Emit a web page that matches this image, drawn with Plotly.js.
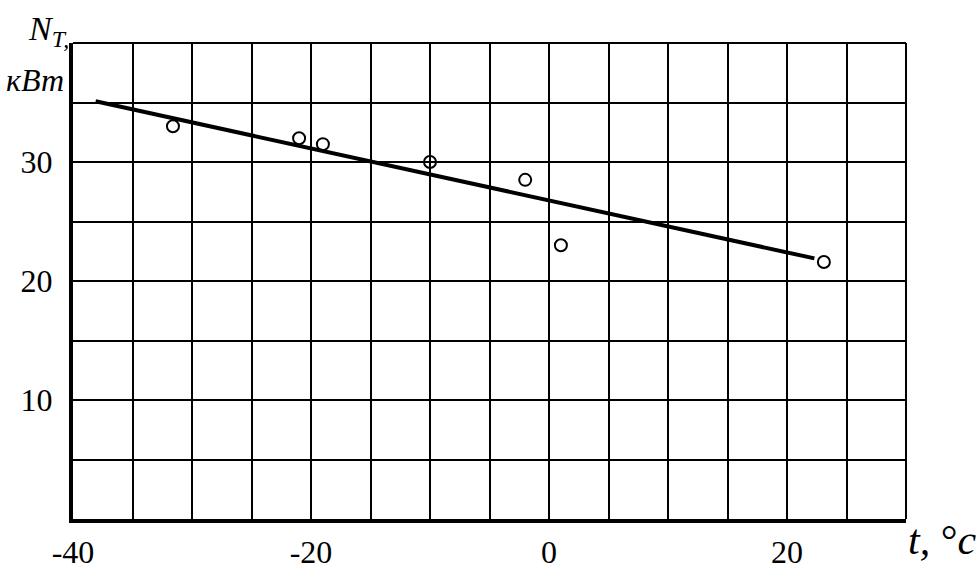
<!DOCTYPE html>
<html>
<head>
<meta charset="utf-8">
<script src="https://cdn.plot.ly/plotly-3.0.1.min.js"></script>
<style>html,body{margin:0;padding:0;background:#fff;}#chart{width:980px;height:573px;}</style>
</head>
<body>
<div id="chart"></div>
<script>
// Measured points: temperature t (°C) vs power N_T (kW)
var tempPoints = [-31.6, -21.0, -19.0, -10.0, -2.0, 1.0, 23.1];
var powerPoints = [33.0, 32.0, 31.5, 30.0, 28.5, 23.0, 21.6];
// Fitted trend line endpoints
var trendT = [-38.1, 22.3];
var trendN = [35.1, 21.9];
// Tick labels
var xTickVals = [-40, -20, 0, 20];
var xTickText = ['-40', '-20', '0', '20'];
var yTickVals = [10, 20, 30];
var yTickText = ['10', '20', '30'];

var font = 'Liberation Serif';

var traces = [
  {x: trendT, y: trendN, mode: 'lines', line: {color: '#000', width: 4}, hoverinfo: 'skip'},
  {x: tempPoints, y: powerPoints, mode: 'markers',
   marker: {symbol: 'circle-open', size: 12, color: '#000', line: {width: 2, color: '#000'}}}
];

var layout = {
  width: 980, height: 573,
  margin: {l: 73, r: 74, t: 43, b: 54},
  paper_bgcolor: '#fff', plot_bgcolor: '#fff',
  showlegend: false,
  font: {family: font, color: '#000', size: 30},
  xaxis: {
    range: [-40, 30], tickvals: xTickVals, ticktext: xTickText,
    showgrid: true, gridcolor: '#000', gridwidth: 2,
    minor: {dtick: 5, tick0: 0, showgrid: true, gridcolor: '#000', gridwidth: 2},
    showline: true, linecolor: '#000', linewidth: 4,
    zeroline: false, ticks: '', ticklabelstandoff: 2,
    tickfont: {family: font, size: 32, color: '#000'}
  },
  yaxis: {
    range: [0, 40], tickvals: yTickVals, ticktext: yTickText,
    showgrid: true, gridcolor: '#000', gridwidth: 2,
    minor: {dtick: 5, tick0: 0, showgrid: true, gridcolor: '#000', gridwidth: 2},
    showline: true, linecolor: '#000', linewidth: 4,
    zeroline: false, ticks: '', ticklabelstandoff: 10,
    tickfont: {family: font, size: 32, color: '#000'}
  },
  shapes: [
    {type: 'line', xref: 'paper', yref: 'paper', x0: 0, x1: 1, y0: 1, y1: 1, line: {color: '#000', width: 2}},
    {type: 'line', xref: 'paper', yref: 'paper', x0: 1, x1: 1, y0: 0, y1: 1, line: {color: '#000', width: 2}}
  ],
  annotations: [
    {xref: 'paper', yref: 'paper', x: -0.003, y: 1.025, xanchor: 'right', yanchor: 'middle', showarrow: false,
     text: '<i>N<sub>T,</sub></i>', font: {family: font, size: 34, color: '#000'}},
    {xref: 'paper', yref: 'paper', x: -0.008, y: 0.922, xanchor: 'right', yanchor: 'middle', showarrow: false,
     text: '<i>кВт</i>', font: {family: font, size: 32, color: '#000'}},
    {xref: 'paper', yref: 'paper', x: 1.0, y: -0.045, xanchor: 'left', yanchor: 'middle', showarrow: false,
     text: '<i>t,</i> °<i>c</i>', font: {family: font, size: 42, color: '#000'}}
  ]
};

Plotly.newPlot('chart', traces, layout, {displayModeBar: false, staticPlot: true}).then(function(){
  // Force the serif family on all SVG text (Plotly may override it)
  var nodes = document.querySelectorAll('#chart text');
  nodes.forEach(function(n){ n.style.fontFamily = '"Liberation Serif", "DejaVu Serif", serif'; });
});
</script>
</body>
</html>
